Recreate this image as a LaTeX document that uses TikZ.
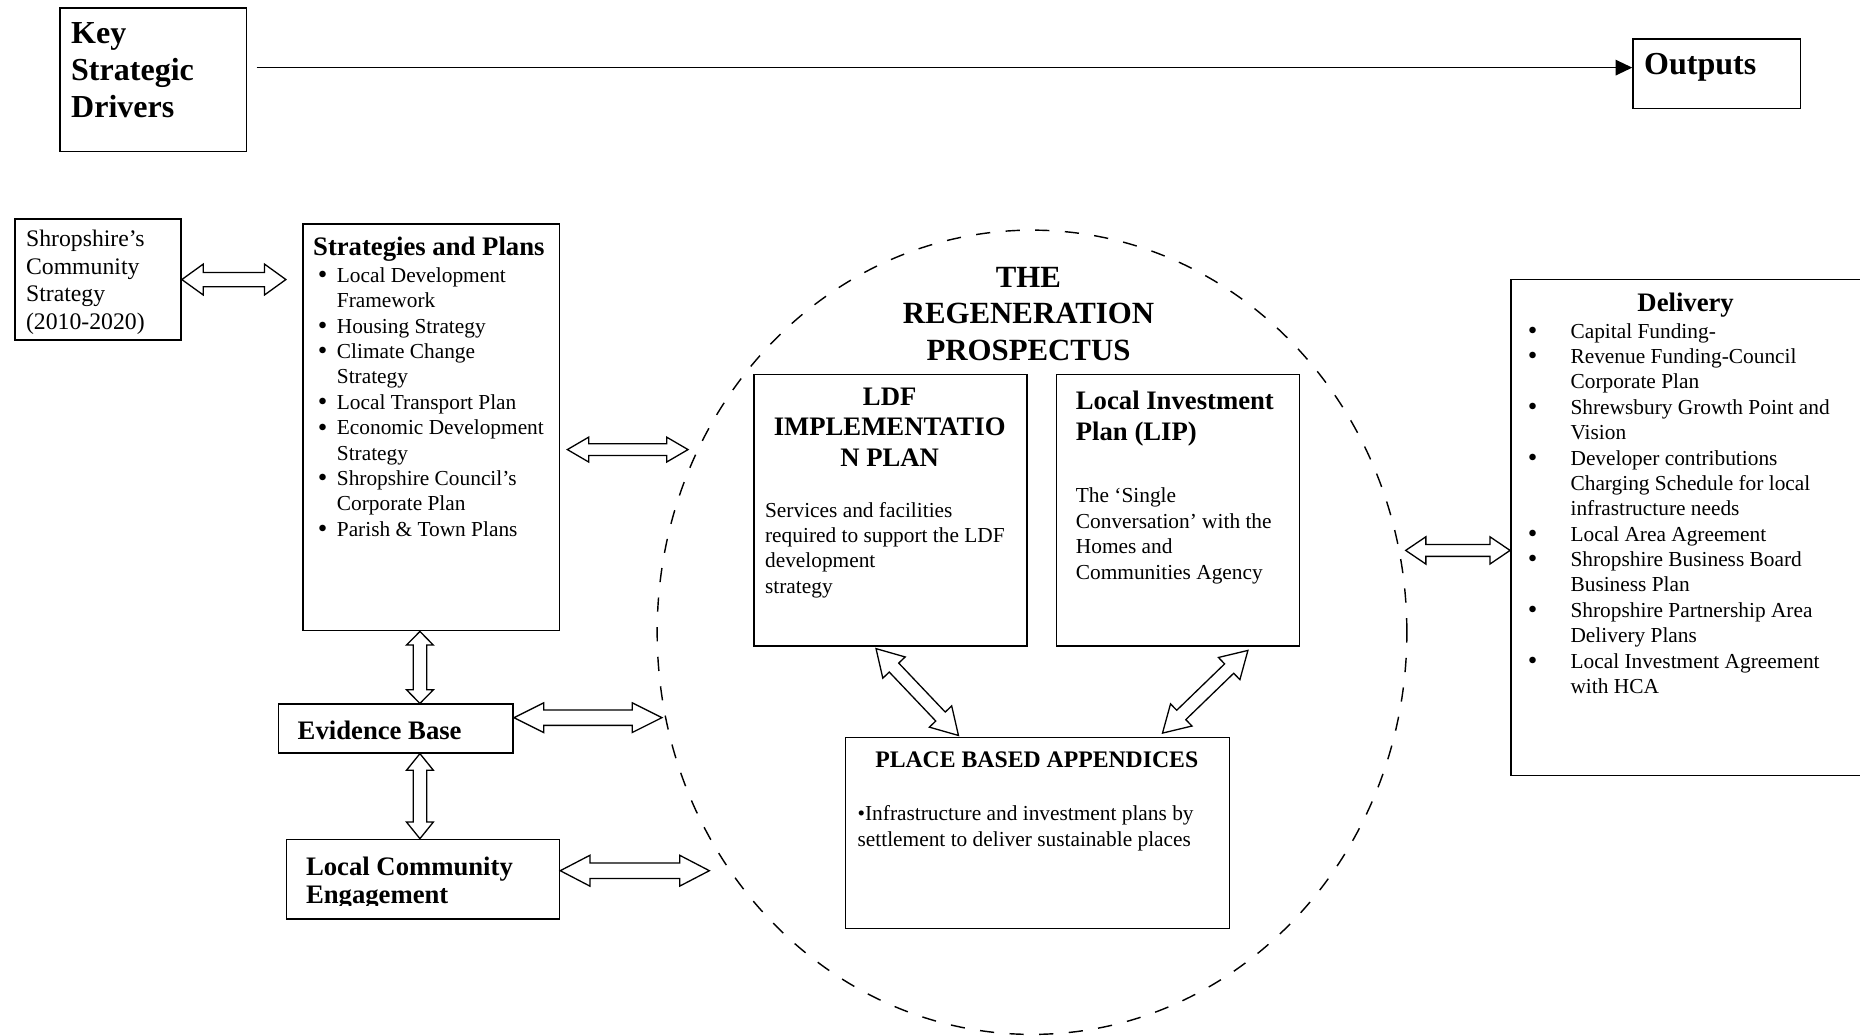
\documentclass[tikz,border=0pt]{standalone}
\usepackage{fontspec}
\setmainfont{Liberation Serif}
\usetikzlibrary{calc,shapes.geometric,arrows.meta}

% type sizes
\newcommand\fbody{\fontsize{18}{21.4}\selectfont}
\newcommand\fhead{\fontsize{22.5}{25}\selectfont\bfseries}
\newcommand\fbig{\fontsize{27}{31}\selectfont\bfseries}
\newcommand\bigbullet{\raisebox{-1.2pt}{\fontsize{23}{0}\selectfont\textbullet}}

% bullet items: Strategies list and Delivery list
\newcommand\sitem[1]{\hangindent=20pt\hangafter=1\noindent\makebox[20pt][l]{\hspace{4pt}\bigbullet}#1\par}
\newcommand\ditem[1]{\hangindent=36pt\hangafter=1\noindent\makebox[36pt][l]{\bigbullet}#1\par}

% hollow two-headed block arrow: start, end, head length, head half-width, shaft half-width
\newcommand\bidiarrow[5]{%
  \draw[blockarrow] (#1)
    -- ($(#1)!#3!(#2)!#4!90:(#2)$)
    -- ($(#1)!#3!(#2)!#5!90:(#2)$)
    -- ($(#2)!#3!(#1)!#5!-90:(#1)$)
    -- ($(#2)!#3!(#1)!#4!-90:(#1)$)
    -- (#2)
    -- ($(#2)!#3!(#1)!#4!90:(#1)$)
    -- ($(#2)!#3!(#1)!#5!90:(#1)$)
    -- ($(#1)!#3!(#2)!#5!-90:(#2)$)
    -- ($(#1)!#3!(#2)!#4!-90:(#2)$)
    -- cycle;}

\begin{document}
\begin{tikzpicture}[x=1pt,y=-1pt,
  box/.style={draw, line width=1.3pt, inner sep=0pt, anchor=north west},
  txt/.style={inner sep=0pt, outer sep=0pt},
  blockarrow/.style={draw, line width=1.1pt, fill=white, line join=miter},
  ringline/.style={draw, dash pattern=on 12pt off 13pt, line width=1.2pt, ellipse, inner sep=0pt},
]
\useasboundingbox (0,0) rectangle (1568,873);

% the prospectus ring
\node[ringline, minimum width=632pt, minimum height=678pt] (regen) at (870,533) {};

% boxes
\node[box, minimum width=157pt, minimum height=121pt] (ksd) at (50,6) {};
\node[box, minimum width=141pt, minimum height=59pt]  (out) at (1376,32) {};
\node[box, minimum width=140pt, minimum height=102pt] (scs) at (12,184) {};
\node[box, minimum width=216pt, minimum height=343pt] (sap) at (255,188) {};
\node[box, minimum width=198pt, minimum height=41pt]  (evb) at (234,593) {};
\node[box, minimum width=230pt, minimum height=67pt]  (lce) at (241,707) {};
\node[box, minimum width=230pt, minimum height=229pt] (ldf) at (635,315) {};
\node[box, minimum width=205pt, minimum height=229pt] (lip) at (890,315) {};
\node[box, minimum width=324pt, minimum height=161pt] (pba) at (712,621) {};
\node[box, minimum width=310pt, minimum height=418pt] (dlv) at (1273,235) {};

% texts
\node[txt, anchor=base west] (ksdT) at (60,37) {\parbox[t]{140pt}{\fbig Key\\Strategic\\Drivers}};
\node[txt, anchor=base west] (outT) at (1386,63) {\fbig Outputs};

\node[txt, anchor=base west] (scsT) at (22,208) {\parbox[t]{128pt}{\fontsize{20}{23.2}\selectfont Shropshire’s\\Community\\Strategy\\(2010-2020)}};

\node[txt, anchor=base west] (sapH) at (264,215) {\fhead Strategies and Plans};
\node[txt, anchor=base west] (sapL) at (264,238) {\parbox[t]{205pt}{\fbody
  \sitem{Local Development\\Framework}
  \sitem{Housing Strategy}
  \sitem{Climate Change\\Strategy}
  \sitem{Local Transport Plan}
  \sitem{Economic Development\\Strategy}
  \sitem{Shropshire Council’s\\Corporate Plan}
  \sitem{Parish \& Town Plans}}};

\node[txt, anchor=base west] (evbT) at (251,623) {\fhead Evidence Base};
\begin{scope}
  \clip (lce.north west) rectangle ([yshift=12pt]lce.south east);
  \node[txt, anchor=base west] (lceT) at (258,738) {\parbox[t]{215pt}{\fontsize{22.5}{24}\selectfont\bfseries Local Community\\Engagement}};
\end{scope}

\node[txt, anchor=base] (regenT) at (867,242) {\parbox[t]{260pt}{\centering\fontsize{26}{31}\selectfont\bfseries THE\\REGENERATION\\PROSPECTUS}};

\node[txt, anchor=base] (ldfH) at (750,342) {\parbox[t]{228pt}{\centering\fontsize{22.5}{25.5}\selectfont\bfseries LDF\\IMPLEMENTATIO\\N PLAN}};
\node[txt, anchor=base west] (ldfB) at (645,436) {\parbox[t]{218pt}{\fbody Services and facilities\\required to support the LDF\\development\\strategy}};

\node[txt, anchor=base west] (lipH) at (907,345) {\parbox[t]{185pt}{\fontsize{22.5}{26}\selectfont\bfseries Local Investment\\Plan (LIP)}};
\node[txt, anchor=base west] (lipB) at (907,424) {\parbox[t]{185pt}{\fbody The ‘Single\\Conversation’ with the\\Homes and\\Communities Agency}};

\node[txt, anchor=base] (pbaH) at (874,647) {\fontsize{20}{24}\selectfont\bfseries PLACE BASED APPENDICES};
\node[txt, anchor=base west] (pbaB) at (723,692) {\parbox[t]{305pt}{\fbody \textbullet Infrastructure and investment plans by\\settlement to deliver sustainable places}};

\node[txt, anchor=base] (dlvH) at (1421,263) {\fhead Delivery};
\node[txt, anchor=base west] (dlvL) at (1288,285) {\parbox[t]{270pt}{\fbody
  \ditem{Capital Funding-}
  \ditem{Revenue Funding-Council\\Corporate Plan}
  \ditem{Shrewsbury Growth Point and\\Vision}
  \ditem{Developer contributions\\Charging Schedule for local\\infrastructure needs}
  \ditem{Local Area Agreement}
  \ditem{Shropshire Business Board\\Business Plan}
  \ditem{Shropshire Partnership Area\\Delivery Plans}
  \ditem{Local Investment Agreement\\with HCA}}};

% drivers -> outputs
\coordinate (lvl) at (0,57);
\coordinate (drvS) at ([xshift=8pt]ksd.east);
\draw[line width=1.3pt, -{Triangle[length=14pt,width=13pt]}] (drvS |- lvl) -- (out.west |- lvl);

% free ends of the block arrows
\coordinate (scsE) at ($(sap.west |- scs.east)+(-14,0)$);
\coordinate (h2) at (0,379);
\coordinate (sapS) at ($(sap.east |- h2)+(6,0)$);
\coordinate (sapE) at (580,379);
\coordinate (h3) at (0,605);
\coordinate (evbE) at (558,605);
\coordinate (h4) at (0,734);
\coordinate (lceE) at (598,734);
\coordinate (h5) at (0,464);
\coordinate (dlvS) at (1185,464);
\coordinate (ldfA) at ($(ldf.south west)+(103.5,1.5)$);
\coordinate (pbaA) at ($(pba.north west)+(96,-1)$);
\coordinate (lipA) at ($(lip.south west)+(162,3)$);
\coordinate (pbaB) at ($(pba.north west)+(268,-3)$);

% block arrows
\bidiarrow{scs.east}{scsE}{18pt}{13pt}{6pt}
\bidiarrow{sapS}{sapE}{18pt}{10.5pt}{5pt}
\bidiarrow{evb.east |- h3}{evbE}{25pt}{12.5pt}{6.5pt}
\bidiarrow{lce.east |- h4}{lceE}{25pt}{13pt}{6.5pt}
\bidiarrow{dlvS}{dlv.west |- h5}{17pt}{11.5pt}{5pt}
\bidiarrow{sap.south -| 354,0}{evb.north -| 354,0}{11.5pt}{11.3pt}{5.7pt}
\bidiarrow{evb.south -| 354,0}{lce.north -| 354,0}{14pt}{11.3pt}{5.7pt}
\bidiarrow{ldfA}{pbaA}{22pt}{13pt}{5.5pt}
\bidiarrow{lipA}{pbaB}{22pt}{13pt}{5.5pt}
\end{tikzpicture}
\end{document}
